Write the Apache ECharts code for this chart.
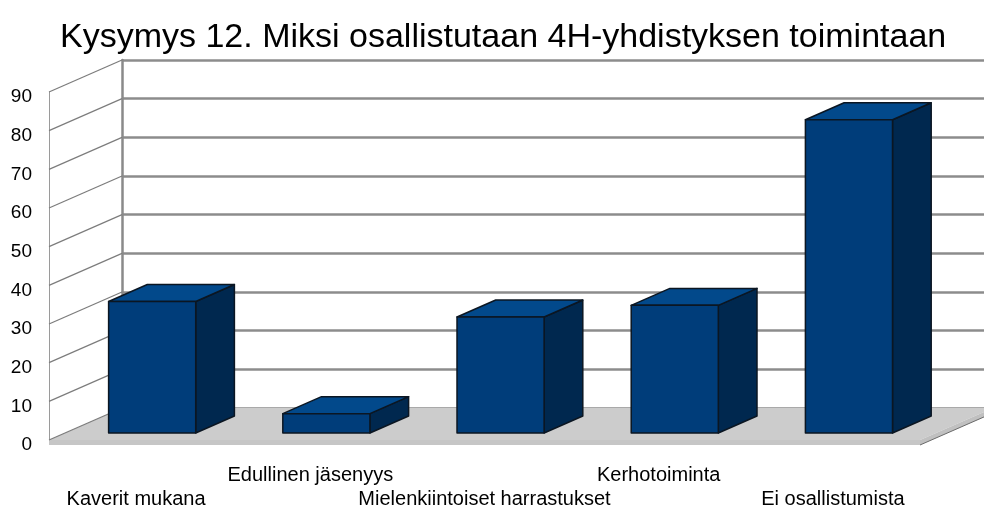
<!DOCTYPE html>
<html>
<head>
<meta charset="utf-8">
<title>Kysymys 12</title>
<script src="https://cdn.jsdelivr.net/npm/echarts@6/dist/echarts.min.js"></script>
<style>
html, body { margin: 0; padding: 0; background: #fff; }
#chart { width: 984px; height: 508px; }
</style>
</head>
<body>
<div id="chart"></div>
<script>
const categories = ['Kaverit mukana', 'Edullinen jäsenyys', 'Mielenkiintoiset harrastukset', 'Kerhotoiminta', 'Ei osallistumista'];
const answers = [34, 5, 30, 33, 81];
const yTicks = [0, 10, 20, 30, 40, 50, 60, 70, 80, 90];

// pseudo 3d: the back wall is the front plane shifted by (DX, DY)
const DX = 73;
const DY = -32;
const FRONT = { left: 49, top: 92, width: 871, height: 348 };
const BAR_NEAR = 0.22; // depth of bar front face (0 = front, 1 = back wall)
const BAR_FAR = 0.75;
const BAR_WIDTH = 0.5;

const FONT = 'Liberation Sans';

function floorItem(params, api) {
    const r = params.coordSys;
    const yb = r.y + r.height;
    const x0 = r.x;
    const x1 = r.x + r.width;
    return {
        type: 'group',
        children: [
            { type: 'polygon', shape: { points: [[x0, yb], [x1, yb], [x1 + DX, yb + DY], [x0 + DX, yb + DY]] }, style: { fill: '#cccccc' } },
            { type: 'rect', shape: { x: x0, y: yb, width: r.width, height: 5 }, style: { fill: '#c6c6c6' } },
            { type: 'polygon', shape: { points: [[x1, yb], [x1 + DX, yb + DY], [x1 + DX, yb + DY + 5], [x1, yb + 5]] }, style: { fill: '#c0c0c0' } },
            { type: 'line', shape: { x1: x1, y1: yb + 5, x2: x1 + DX, y2: yb + DY + 5 }, style: { stroke: '#6a6a6a', lineWidth: 1 } },
        ],
    };
}

function wallLineItem(params, api) {
    const r = params.coordSys;
    const y = api.coord([0, api.value(1)])[1];
    return {
        type: 'line',
        shape: { x1: r.x, y1: y, x2: r.x + DX, y2: y + DY },
        style: { stroke: '#7c7c7c', lineWidth: 1.2 },
    };
}

function barItem(params, api) {
    const base = api.coord([api.value(0), 0]);
    const top = api.coord([api.value(0), api.value(1)]);
    const w = api.size([1, 0])[0] * BAR_WIDTH;
    const nx = DX * BAR_NEAR, ny = DY * BAR_NEAR;
    const ddx = DX * (BAR_FAR - BAR_NEAR), ddy = DY * (BAR_FAR - BAR_NEAR);
    const xl = base[0] - w / 2 + nx;
    const xr = base[0] + w / 2 + nx;
    const yb = base[1] + ny;
    const yt = top[1] + ny;
    const edge = { stroke: '#0b1622', lineWidth: 1.5, lineJoin: 'round' };
    return {
        type: 'group',
        children: [
            { type: 'polygon', shape: { points: [[xr, yt], [xr + ddx, yt + ddy], [xr + ddx, yb + ddy], [xr, yb]] }, style: Object.assign({ fill: '#00284f' }, edge) },
            { type: 'polygon', shape: { points: [[xl, yt], [xr, yt], [xr + ddx, yt + ddy], [xl + ddx, yt + ddy]] }, style: Object.assign({ fill: '#02498b' }, edge) },
            { type: 'rect', shape: { x: xl, y: yt, width: xr - xl, height: yb - yt }, style: Object.assign({ fill: '#003d7a' }, edge) },
        ],
    };
}

const chart = echarts.init(document.getElementById('chart'));
chart.setOption({
    animation: false,
    backgroundColor: '#ffffff',
    title: {
        text: 'Kysymys 12. Miksi osallistutaan 4H-yhdistyksen toimintaan',
        left: 55,
        top: 16,
        textStyle: { fontFamily: FONT, fontSize: 34, fontWeight: 'normal', color: '#000' },
    },
    grid: [
        { left: FRONT.left, top: FRONT.top, width: FRONT.width, height: FRONT.height, outerBoundsMode: 'none' },
        { left: FRONT.left + DX, top: FRONT.top + DY, width: FRONT.width, height: FRONT.height, outerBoundsMode: 'none' },
    ],
    xAxis: [
        {
            gridIndex: 0,
            type: 'category',
            data: categories,
            axisLine: { show: false },
            axisTick: { show: false },
            axisLabel: {
                interval: 0,
                hideOverlap: false,
                margin: 23,
                fontFamily: FONT,
                fontSize: 20,
                lineHeight: 24,
                color: '#000',
                formatter: (val, idx) => (idx % 2 ? val + '\n ' : ' \n' + val),
            },
        },
        { gridIndex: 1, type: 'category', data: categories, show: false },
    ],
    yAxis: [
        {
            gridIndex: 0,
            type: 'value',
            min: yTicks[0],
            max: yTicks[yTicks.length - 1],
            interval: yTicks[1] - yTicks[0],
            axisLine: { show: true, lineStyle: { color: '#9a9a9a', width: 1 } },
            axisTick: { show: false },
            splitLine: { show: false },
            axisLabel: {
                margin: 17,
                fontFamily: FONT,
                fontSize: 19,
                color: '#000',
                verticalAlign: 'top',
                lineHeight: 10,
            },
        },
        {
            gridIndex: 1,
            type: 'value',
            min: yTicks[0],
            max: yTicks[yTicks.length - 1],
            interval: yTicks[1] - yTicks[0],
            axisLine: { show: true, lineStyle: { color: '#8a8a8a', width: 2.5 } },
            axisTick: { show: false },
            axisLabel: { show: false },
            splitLine: { show: true, lineStyle: { color: '#8c8c8c', width: 2.5 } },
        },
    ],
    series: [
        {
            type: 'custom',
            name: 'floor',
            xAxisIndex: 0,
            yAxisIndex: 0,
            renderItem: floorItem,
            data: [[0, 0]],
            z: 1,
            silent: true,
        },
        {
            type: 'custom',
            name: 'wall',
            xAxisIndex: 0,
            yAxisIndex: 0,
            renderItem: wallLineItem,
            data: yTicks.map(v => [0, v]),
            z: 2,
            silent: true,
        },
        {
            type: 'custom',
            name: 'Vastaukset',
            xAxisIndex: 0,
            yAxisIndex: 0,
            renderItem: barItem,
            data: answers.map((v, i) => [i, v]),
            z: 3,
        },
    ],
});
window.addEventListener('resize', () => {
    chart.resize();
});
</script>
</body>
</html>
